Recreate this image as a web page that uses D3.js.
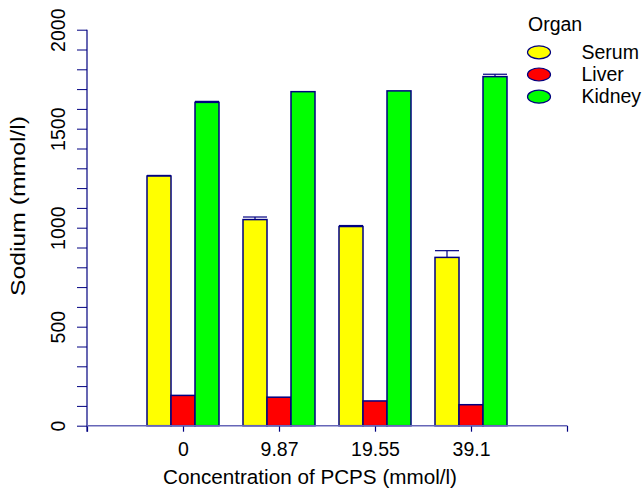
<!DOCTYPE html>
<html>
<head>
<meta charset="utf-8">
<script src="https://cdn.jsdelivr.net/npm/d3@7"></script>
<style>
  body { margin: 0; background: #fff; }
  text { font-family: "Liberation Sans", Arial, sans-serif; fill: #000; }
</style>
</head>
<body>
<svg id="chart" width="643" height="491"></svg>
<script>
"use strict";

// categories on the x axis (concentration of PCPS)
const concentrations = ["0", "9.87", "19.55", "39.1"];
const organs = ["Serum", "Liver", "Kidney"];
const organColors = ["#ffff00", "#ff0000", "#00ff00"];

// mean sodium values per organ
const serumValues = [1261, 1041, 1006, 850];
const liverValues = [153, 144, 125, 106];
const kidneyValues = [1633, 1687, 1691, 1763];

// upper error bar lengths
const serumErrors = [3, 13, 5, 34];
const liverErrors = [0, 0, 0, 0];
const kidneyErrors = [5, 0, 0, 12];

const yTickValues = [0, 500, 1000, 1500, 2000];

const series = [
  { name: organs[0], color: organColors[0], values: serumValues, errors: serumErrors },
  { name: organs[1], color: organColors[1], values: liverValues, errors: liverErrors },
  { name: organs[2], color: organColors[2], values: kidneyValues, errors: kidneyErrors }
];

const navy = "#000080";
const tickFont = "19.5px";
const svg = d3.select("#chart");

// plot area
const plotLeft = 87, plotRight = 567, plotTop = 29.7, plotBottom = 425.7;

const x = d3.scaleLinear().domain([0, concentrations.length + 1]).range([plotLeft, plotRight]);
const y = d3.scaleLinear().domain([0, 2000]).range([plotBottom, plotTop]);

// each group takes 0.75 of a unit, each bar 0.25
const barW = 0.25;

// bars
series.forEach((s, si) => {
  const g = svg.append("g");
  g.selectAll("rect")
    .data(s.values)
    .enter()
    .append("rect")
      .attr("x", (d, i) => x(i + 1 - 0.375 + si * barW))
      .attr("y", d => y(d))
      .attr("width", x(barW) - x(0))
      .attr("height", d => y(0) - y(d))
      .attr("fill", s.color)
      .attr("stroke", navy)
      .attr("stroke-width", 1.5);

  // error bars (upper only)
  s.values.forEach((v, i) => {
    const e = s.errors[i];
    if (e <= 0) return;
    const x0 = x(i + 1 - 0.375 + si * barW);
    const x1 = x(i + 1 - 0.375 + (si + 1) * barW);
    g.append("line")
      .attr("x1", (x0 + x1) / 2).attr("x2", (x0 + x1) / 2)
      .attr("y1", y(v)).attr("y2", y(v + e))
      .attr("stroke", navy).attr("stroke-width", 1.2);
    g.append("line")
      .attr("x1", x0).attr("x2", x1)
      .attr("y1", y(v + e)).attr("y2", y(v + e))
      .attr("stroke", navy).attr("stroke-width", 1.2);
  });
});

// y axis: minor ticks every 100, labels every 500
const yAxis = d3.axisLeft(y)
  .tickValues(d3.range(0, 2001, 100))
  .tickSize(10)
  .tickFormat(d => yTickValues.includes(d) ? d : "");
const yg = svg.append("g")
  .attr("transform", `translate(${plotLeft},0)`)
  .call(yAxis);
yg.select(".domain").remove();
yg.selectAll(".tick line").attr("stroke", navy);
yg.selectAll(".tick text")
  .attr("transform", "rotate(-90)")
  .attr("x", 0)
  .attr("y", -22)
  .attr("dy", 0)
  .attr("text-anchor", "middle")
  .style("font-size", tickFont)
  .style("font-family", "'Liberation Sans', Arial, sans-serif")
  .attr("fill", "#000");
svg.append("line")
  .attr("x1", plotLeft).attr("x2", plotLeft)
  .attr("y1", plotTop).attr("y2", plotBottom + 6)
  .attr("stroke", navy).attr("stroke-width", 1.2);

// x axis
const xAxis = d3.axisBottom(x)
  .tickValues(d3.range(0, concentrations.length + 2))
  .tickSize(6)
  .tickFormat(d => (d >= 1 && d <= concentrations.length) ? concentrations[d - 1] : "");
const xg = svg.append("g")
  .attr("transform", `translate(0,${plotBottom})`)
  .call(xAxis);
xg.select(".domain").remove();
xg.selectAll(".tick line").attr("stroke", navy).attr("stroke-width", 1.2);
xg.selectAll(".tick text")
  .attr("y", 30.5)
  .attr("dy", 0)
  .style("font-size", tickFont)
  .style("font-family", "'Liberation Sans', Arial, sans-serif")
  .attr("fill", "#000");
svg.append("line")
  .attr("x1", plotLeft).attr("x2", plotRight)
  .attr("y1", plotBottom).attr("y2", plotBottom)
  .attr("stroke", "#6666b8").attr("stroke-width", 1.5);

// axis titles
svg.append("text")
  .attr("x", 310)
  .attr("y", 484)
  .attr("text-anchor", "middle")
  .style("font-size", "20.5px")
  .attr("textLength", 294)
  .attr("lengthAdjust", "spacingAndGlyphs")
  .text("Concentration of PCPS (mmol/l)");

svg.append("text")
  .attr("transform", "translate(25,206) rotate(-90)")
  .attr("text-anchor", "middle")
  .style("font-size", "21px")
  .attr("textLength", 180)
  .attr("lengthAdjust", "spacingAndGlyphs")
  .text("Sodium (mmol/l)");

// legend
const legend = svg.append("g");
legend.append("text")
  .attr("x", 528).attr("y", 30.5)
  .style("font-size", tickFont)
  .text("Organ");
const legendY = [52.3, 74.5, 96.7];
series.forEach((s, i) => {
  legend.append("ellipse")
    .attr("cx", 539).attr("cy", legendY[i])
    .attr("rx", 11.5).attr("ry", 6.5)
    .attr("fill", s.color)
    .attr("stroke", navy).attr("stroke-width", 1.2);
  legend.append("text")
    .attr("x", 581.5).attr("y", legendY[i] + 6.5)
    .style("font-size", tickFont)
    .text(s.name);
});
</script>
</body>
</html>
